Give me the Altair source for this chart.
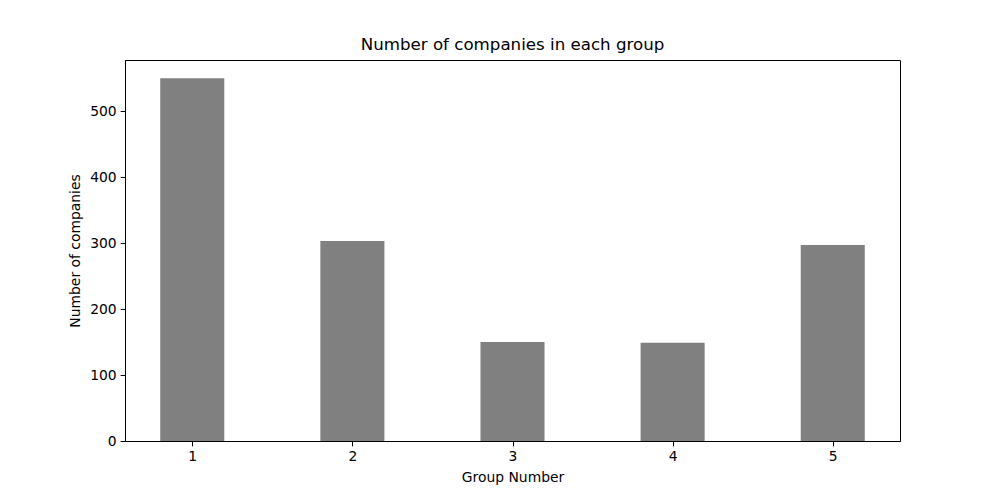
import altair as alt
import pandas as pd

groups = [1, 2, 3, 4, 5]
counts = [550, 303, 150, 149, 297]

df = pd.DataFrame({"group": groups, "count": counts})

FONT = "DejaVu Sans"

chart = (
    alt.Chart(df)
    .transform_calculate(x0="datum.group - 0.2", x1="datum.group + 0.2")
    .mark_bar(color="#808080")
    .encode(
        x=alt.X(
            "x0:Q",
            scale=alt.Scale(domain=[0.58, 5.42], nice=False, zero=False),
            axis=alt.Axis(values=groups, format="d", title="Group Number", titlePadding=7),
        ),
        x2="x1:Q",
        y=alt.Y(
            "count:Q",
            scale=alt.Scale(domain=[0, 577.5], nice=False, padding=0),
            axis=alt.Axis(values=[0, 100, 200, 300, 400, 500], title="Number of companies", titlePadding=7),
        ),
        y2=alt.datum(0),
    )
    .properties(
        width=775,
        height=381,
        title=alt.TitleParams(
            "Number of companies in each group",
            font=FONT,
            fontSize=16.67,
            fontWeight="normal",
            color="black",
            anchor="middle",
            offset=6,
        ),
        autosize=alt.AutoSizeParams(type="none"),
        padding={"left": 117, "top": 52, "right": 92, "bottom": 47},
    )
    .configure_view(stroke="black", strokeWidth=1)
    .configure_axis(
        grid=False,
        domainColor="black",
        tickColor="black",
        tickSize=4.86,
        labelPadding=4,
        labelFont=FONT,
        labelFontSize=13.89,
        labelColor="black",
        titleFont=FONT,
        titleFontSize=13.89,
        titleFontWeight="normal",
        titleColor="black",
    )
)

chart.save("out.html", embed_options={"renderer": "svg", "actions": False})
